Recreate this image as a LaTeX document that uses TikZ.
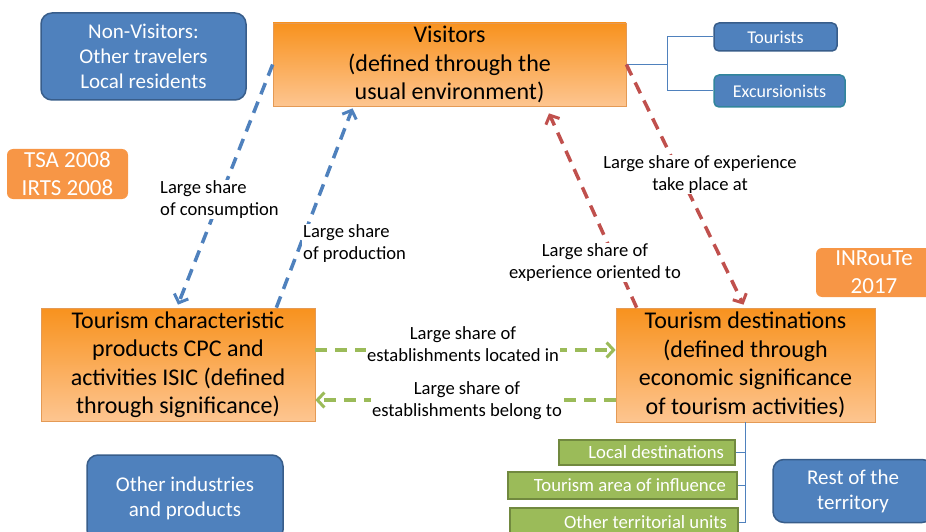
\documentclass[tikz,border=0pt]{standalone}
\usepackage{fontspec}
\setmainfont{Carlito}
\usetikzlibrary{arrows.meta}
\definecolor{cBlue}{HTML}{4F81BD}
\definecolor{cBlueD}{HTML}{385D8A}
\definecolor{cTeal}{HTML}{31859C}
\definecolor{cRed}{HTML}{C0504D}
\definecolor{cGreen}{HTML}{9BBB59}
\definecolor{cGreenD}{HTML}{71893F}
\definecolor{cOrange}{HTML}{F79646}
\definecolor{cOrTop}{HTML}{F8921E}
\definecolor{cOrBot}{HTML}{FDC590}
\definecolor{cOrBd}{HTML}{E49A55}
\tikzset{
  gradbox/.style={draw=cOrBd, line width=0.7pt, top color=cOrTop, bottom color=cOrBot,
    inner sep=0pt, align=center, text=black, font=\fontsize{24}{28.5}\selectfont},
  bluebox/.style={draw=cBlueD, line width=1.5pt, fill=cBlue, rounded corners=11pt,
    inner sep=0pt, align=center, text=white, font=\fontsize{21}{25}\selectfont},
  smallblue/.style={draw=cBlueD, line width=1.5pt, fill=cBlue, rounded corners=5pt,
    inner sep=0pt, align=center, text=white, font=\fontsize{18}{22}\selectfont},
  flatorange/.style={fill=cOrange, rounded corners=6pt, inner sep=0pt, align=center,
    text=white, font=\fontsize{23}{28}\selectfont},
  greenbox/.style={draw=cGreenD, line width=1.5pt, fill=cGreen, inner xsep=0pt, inner ysep=0pt,
    align=flush right, text=white, font=\fontsize{18.7}{22}\selectfont},
  conn/.style={dash pattern=on 12pt off 8pt, line width=3.5pt,
    -{Straight Barb[length=7pt,width=15pt,line width=3pt]}},
  bluearrow/.style={conn, draw=cBlue},
  redarrow/.style={conn, draw=cRed},
  greenarrow/.style={conn, draw=cGreen},
  lbl/.style={fill=white, inner sep=1pt, text=black, font=\fontsize{18.6}{22}\selectfont},
  tree/.style={draw=cBlue, line width=1pt},
}
\begin{document}
\begin{tikzpicture}[x=1pt,y=-1pt]
\useasboundingbox (0,0) rectangle (926,532);
\clip (0,0) rectangle (926,532);

% boxes
\node[gradbox, minimum width=353pt, minimum height=83pt] (vis) at (449.5,64.5)
  {Visitors\\(defined through the\\usual environment)};
\node[gradbox, minimum width=274pt, minimum height=113pt] (char) at (178,364.5)
  {Tourism characteristic\\products CPC and\\activities ISIC (defined\\through significance)};
\node[gradbox, minimum width=259pt, minimum height=114pt] (dest) at (745.5,365)
  {Tourism destinations\\(defined through\\economic significance\\of tourism activities)};

\node[bluebox, minimum width=205pt, minimum height=87pt] (nonvis) at (143.5,56.5)
  {Non-Visitors:\\Other travelers\\Local residents};
\node[bluebox, minimum width=196pt, minimum height=86pt] (other) at (185,498)
  {Other industries\\and products};
\node[bluebox, minimum width=160pt, minimum height=63pt] (rest) at (853,491)
  {Rest of the\\territory};

\node[smallblue, minimum width=123pt, minimum height=28pt] (tour) at (775.5,37) {Tourists};
\node[smallblue, draw=cTeal, minimum width=131pt, minimum height=32pt] (exc) at (779.5,91) {Excursionists};

\node[flatorange, minimum width=121pt, minimum height=50pt] (tsa) at (67.5,174) {TSA 2008\\IRTS 2008};
\node[flatorange, minimum width=116pt, minimum height=49pt] (inr) at (874,272.5) {INRouTe\\2017};

\node[greenbox, minimum width=176pt, text width=154pt, minimum height=25pt] (loc) at (647,452.5) {Local destinations};
\node[greenbox, minimum width=229pt, text width=207pt, minimum height=27pt] (area) at (622.5,485.5) {Tourism area of influence};
\node[greenbox, minimum width=228pt, text width=206pt, minimum height=28pt] (oth) at (624,522) {Other territorial units};

% tree connectors
\draw[tree] (vis.east) -- ++(41,0) |- (tour.west);
\draw[tree] (vis.east) -- ++(41,0) |- (exc.west);
\draw[tree] (dest.south) |- (loc.east);
\draw[tree] (dest.south) |- (area.east);
\draw[tree] (dest.south) |- (oth.east);

% arrows
\draw[bluearrow] (vis.west) -- ([yshift=3pt]char.north);
\draw[bluearrow] ([xshift=-39pt]char.north east) -- ([xshift=-97pt,yshift=-2pt]vis.south);
\draw[redarrow] (vis.east) -- ([xshift=-2pt,yshift=3pt]dest.north);
\draw[redarrow] ([xshift=21pt]dest.north west) -- ([xshift=99.5pt,yshift=-7pt]vis.south);
\draw[greenarrow] ([yshift=14.5pt]char.east) -- ([yshift=15pt]dest.west);
\draw[greenarrow] ([yshift=-35pt]dest.west) -- ([yshift=-35.5pt]char.east);

% labels
\node[lbl, anchor=west, align=left] (lcons) at (159,199.5) {Large share\\of consumption};
\node[lbl, anchor=west, align=left] (lprod) at (302,244) {Large share\\of production};
\node[lbl, align=center] (ltake) at (700,174.5) {Large share of experience\\take place at};
\node[lbl, align=center] (lorient) at (595,262.5) {Large share of\\experience oriented to};
\node[lbl, align=center] (lloc) at (463,344) {Large share of\\establishments located in};
\node[lbl, align=center] (lbel) at (467,400.5) {Large share of\\establishments belong to};
\end{tikzpicture}
\end{document}
